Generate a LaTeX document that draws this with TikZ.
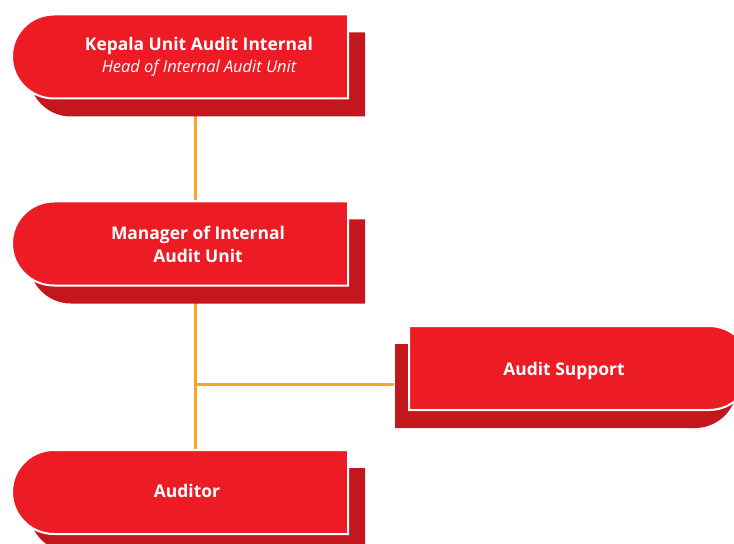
\documentclass[tikz,border=0pt]{standalone}
\usepackage{fontspec}
\setmainfont{Open Sans}
\usepackage{tikz}
\usetikzlibrary{shapes,shadows,backgrounds}
\definecolor{unitred}{HTML}{ED1C24}
\definecolor{shadered}{HTML}{C3161D}
\definecolor{lineorange}{HTML}{F8A61E}
\tikzstyle{unitblk}=[rounded rectangle, rounded rectangle right arc=none,% flat on the right
fill=unitred, draw=white, line width=2bp, minimum height=84bp, inner sep=0pt,
general shadow={fill=shadered, shadow xshift=17bp, shadow yshift=-18bp}]
\tikzstyle{unitsup}=[rounded rectangle, rounded rectangle left arc=none,% flat on the left
fill=unitred, draw=white, line width=2bp, minimum height=84bp, inner sep=0pt,
general shadow={fill=shadered, shadow xshift=-14bp, shadow yshift=-18bp}]
\tikzstyle{unittxt}=[text=white, align=center, inner sep=0pt,
font=\bfseries\fontsize{17.5}{23}\selectfont]
\tikzstyle{orgline}=[draw=lineorange, line width=3bp]

\begin{document}
\begin{tikzpicture}[x=1bp,y=-1bp]
\clip (0,0) rectangle (734,544);
\node[unitblk, minimum width=336bp] (kepala) at (180,56.5) {};
\node[unitblk, minimum width=336bp] (manager) at (180,243.5) {};
\node[unitblk, minimum width=336bp] (auditor) at (180,492) {};
\node[unitsup, minimum width=342bp] (support) at (580,368) {};
% connectors under the boxes
\begin{scope}[on background layer]
\draw[orgline] ([xshift=15bp]kepala.south) -- ([xshift=15bp]manager.north);
\draw[orgline] ([xshift=15bp]manager.south) -- ([xshift=15bp]auditor.north);
\coordinate (branch) at ([xshift=15bp]manager.south |- 0,384);
\draw[orgline] (branch) -- ([xshift=-14bp]support.west |- branch);
\end{scope}
\node[unittxt] (kepalatxt) at (199,57) {Kepala Unit Audit Internal\\[-1bp]
{\mdseries\itshape\fontsize{16.5}{18}\selectfont Head of Internal Audit Unit}};
\node[unittxt] (managertxt) at (198,244) {Manager of Internal\\Audit Unit};
\node[unittxt] (auditortxt) at (187,491) {Auditor};
\node[unittxt] (supporttxt) at (564,371) {Audit Support};
\end{tikzpicture}
\end{document}
